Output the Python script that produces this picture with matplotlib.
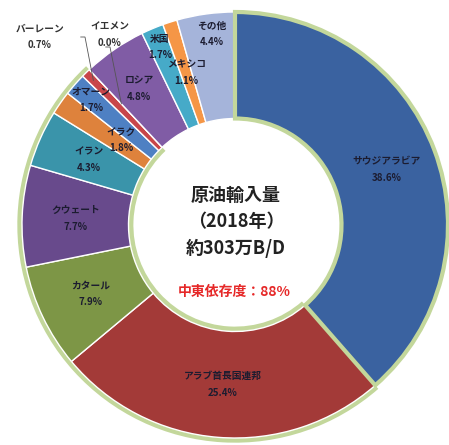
import numpy as np
import matplotlib
matplotlib.use("Agg")
import matplotlib.pyplot as plt

plt.rcParams['font.family'] = ['Noto Sans CJK JP', 'DejaVu Sans']

# 2018 crude oil imports by origin (%)
countries = ["サウジアラビア", "アラブ首長国連邦", "カタール", "クウェート", "イラン",
             "イラク", "オマーン", "バーレーン", "イエメン", "ロシア", "米国", "メキシコ", "その他"]
shares = [38.6, 25.4, 7.9, 7.7, 4.3, 1.8, 1.7, 0.7, 0.0, 4.8, 1.7, 1.1, 4.4]
middle_east = [True, True, True, True, True, True, True, True, True, False, False, False, False]
colors = ["#3A62A0", "#A33A38", "#7D9646", "#684A8C", "#3A94AA", "#DE823C", "#4E80C3",
          "#C8464A", "#9BBB59", "#805CA5", "#46AAC8", "#F59646", "#A5B4DA"]
green = "#C3D79B"

W, H = 449, 445
cx, cy, R = 235, 225, 213  # pixel centre and outer radius

fig = plt.figure(figsize=(W / 100, H / 100), dpi=100)
ax = fig.add_axes([0, 0, 1, 1])


def pix(px, py):
    return (px - cx) / R, (cy - py) / R


# green backdrop behind the middle-east group (without Saudi, which has its own edge)
me_rest = sum(s for s, m in zip(shares[1:], middle_east[1:]) if m)
other = sum(s for s, m in zip(shares, middle_east) if not m)
ax.pie([shares[0], me_rest, other], colors=["none", green, "none"], startangle=90,
       counterclock=False, radius=1.022, wedgeprops=dict(width=0.545, linewidth=0))

wedges, _ = ax.pie(shares, colors=colors, startangle=90, counterclock=False, radius=1.0,
                   wedgeprops=dict(width=0.5, edgecolor="white", linewidth=1.0))
wedges[0].set_edgecolor(green)
wedges[0].set_linewidth(3)
wedges[0].set_zorder(3)

# label positions: default at mid-ring, some moved like in the source
total = sum(shares)
override = {5: (121, 140), 6: (91, 100), 10: (160, 47), 12: (212, 34),
            7: (40, 37), 8: (110, 35), 9: (139, 89), 0: (387, 170)}
cum = 0
for i, (name, s) in enumerate(zip(countries, shares)):
    mid = 90 - (cum + s / 2) / total * 360
    cum += s
    if i in override:
        x, y = pix(*override[i])
    else:
        x = 0.75 * np.cos(np.radians(mid))
        y = 0.75 * np.sin(np.radians(mid))
    col = "#333333" if i in (7, 8) else "#1C1C30"
    ax.text(x, y, f"{name}\n{s:.1f}%", ha="center", va="center", fontsize=7,
            fontweight="bold", color=col, linespacing=1.85)

# leader lines for bahrain and yemen
for i, start, rr in [(7, (85, 37), 0.95), (8, (110, 47), 0.78)]:
    c0 = sum(shares[:i]) + shares[i] / 2
    ang = np.radians(90 - c0 / total * 360)
    x0, y0 = pix(*start)
    ax.plot([x0 - 0.02, x0, rr * np.cos(ang)], [y0, y0, rr * np.sin(ang)],
            color="#555555", lw=0.6, zorder=4)

# centre text
ax.text(*pix(236, 195), "原油輸入量", ha="center", va="center", fontsize=13, fontweight="bold", color="#222222")
ax.text(*pix(236, 222), "（2018年）", ha="center", va="center", fontsize=13, fontweight="bold", color="#222222")
ax.text(*pix(236, 248), "約303万B/D", ha="center", va="center", fontsize=13, fontweight="bold", color="#222222")
ax.text(*pix(234, 292), "中東依存度：88%", ha="center", va="center", fontsize=10, fontweight="bold", color="#E62828")

ax.set_xlim(-cx / R, (W - cx) / R)
ax.set_ylim(-(H - cy) / R, cy / R)
ax.set_aspect("auto")
ax.axis("off")
fig.savefig("out.png", dpi=100)
